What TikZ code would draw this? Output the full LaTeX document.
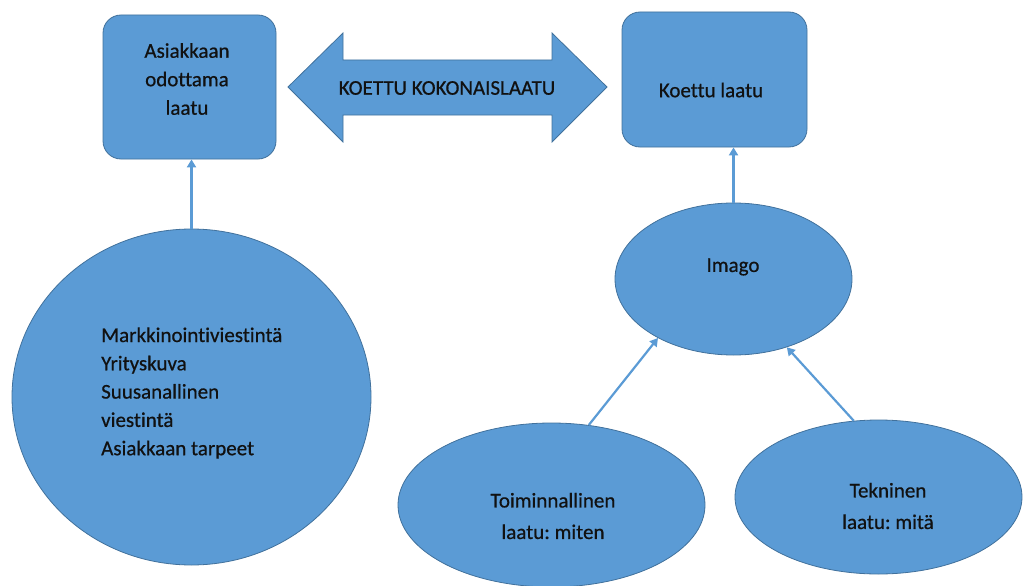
\documentclass[tikz,border=0pt]{standalone}
\usepackage{fontspec}
\setmainfont{Carlito}[Ligatures={NoCommon}, FakeBold=0.6]
\usetikzlibrary{shapes.geometric,arrows.meta}
\definecolor{fillblue}{HTML}{5B9BD5}
\definecolor{edgeblue}{HTML}{41719C}
\definecolor{txt}{HTML}{111111}
\frenchspacing
\begin{document}
\begin{tikzpicture}[x=1pt,y=-1pt,
  shapebox/.style={draw=edgeblue, fill=fillblue, line width=0.8pt, rounded corners=18pt, inner sep=0pt},
  oval/.style={ellipse, draw=edgeblue, fill=fillblue, line width=0.8pt, inner sep=0pt},
  lbl/.style={text=txt, font=\fontsize{21}{28.5}\selectfont, align=center, inner sep=0pt},
  conn/.style={draw=fillblue, line width=2.2pt, -{Triangle[width=9pt,length=8pt]}}]
\useasboundingbox (0,0) rectangle (1023,586);

% boxes
\node[shapebox, minimum width=173pt, minimum height=144pt] (expected) at (189.5,87) {};
\node[shapebox, minimum width=185pt, minimum height=135pt] (koettu) at (714.5,79.5) {};

% double arrow
\draw[draw=edgeblue, fill=fillblue, line width=0.8pt]
  (288,87) -- (343,33) -- (343,60) -- (552,60) -- (552,33) -- (607,87)
  -- (552,142) -- (552,115) -- (343,115) -- (343,142) -- cycle;

% ellipses
\node[oval, minimum width=359pt, minimum height=336pt] (circ) at (191.5,397) {};
\node[oval, minimum width=237pt, minimum height=152pt] (imago) at (733.5,279) {};
\node[oval, minimum width=307pt, minimum height=164pt] (toim) at (551.5,505) {};
\node[oval, minimum width=287pt, minimum height=154pt] (tek) at (878.5,497) {};

% texts
\node[lbl] (t1) at (187,79) {Asiakkaan\\odottama\\laatu};
\node[lbl] (t2) at (447,88) {KOETTU KOKONAISLAATU};
\node[lbl] (t3) at (711,90) {Koettu laatu};
\node[lbl] (t4) at (733,267) {Imago};
\node[lbl, align=left, anchor=west, font=\fontsize{21}{28.3}\selectfont] (t5) at (101,393)
  {Markkinointiviestintä\\Yrityskuva\\Suusanallinen\\viestintä\\Asiakkaan tarpeet};
\node[lbl, font=\fontsize{21}{31.5}\selectfont] (t6) at (553,516) {Toiminnallinen\\laatu: miten};
\node[lbl, font=\fontsize{21}{31.5}\selectfont] (t7) at (888,506) {Tekninen\\laatu: mitä};

% connectors
\draw[conn] (circ.north) -- (circ.north |- expected.south);
\draw[conn] (imago.north) -- (imago.north |- koettu.south);
\draw[conn] (toim.65) -- (imago.218);
\draw[conn] (tek.108.7) -- (imago.308.5);
\end{tikzpicture}
\end{document}
